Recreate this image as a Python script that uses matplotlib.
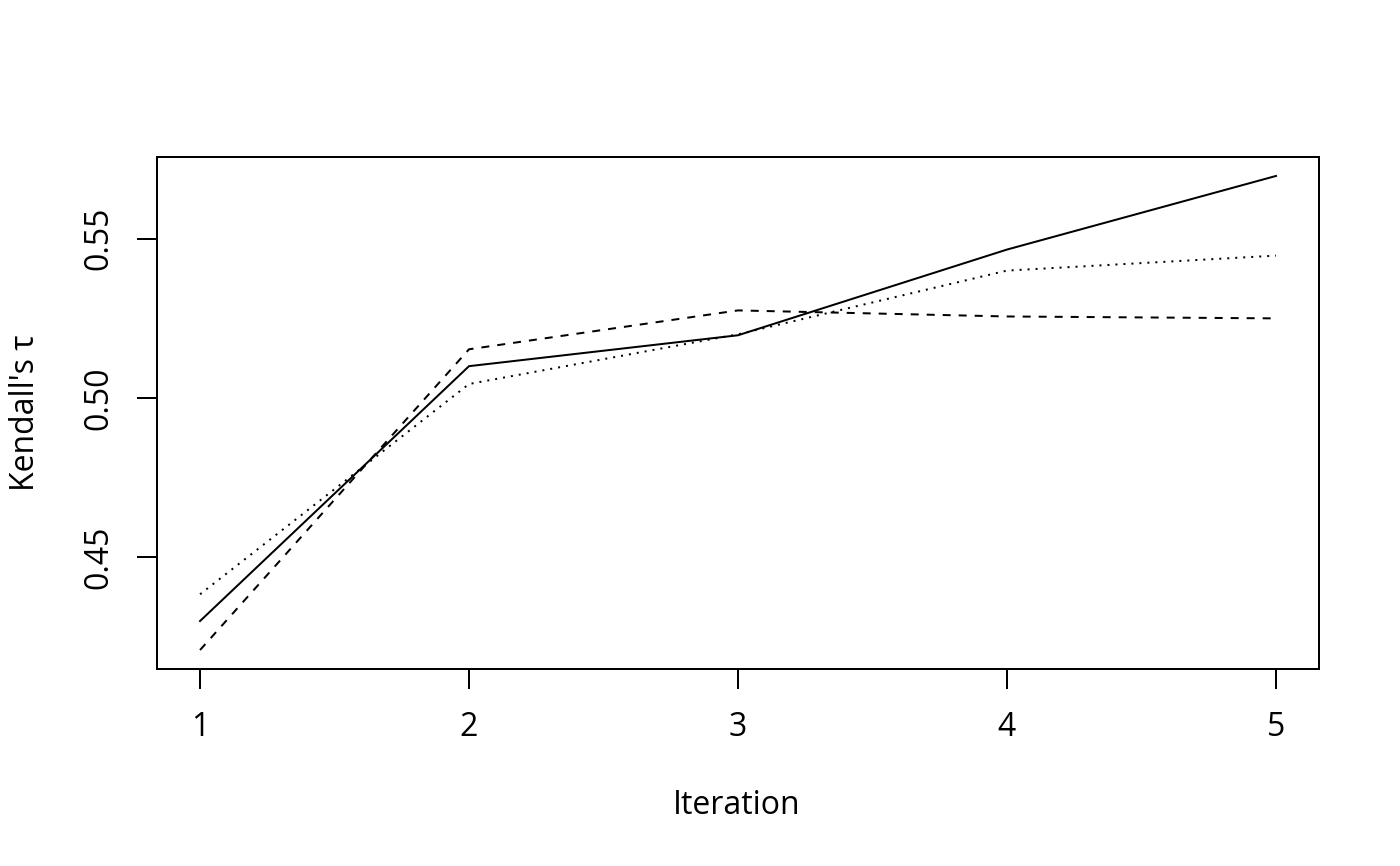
import matplotlib
matplotlib.use("Agg")
import matplotlib.pyplot as plt

iterations = [1, 2, 3, 4, 5]
solid = [0.4300, 0.5100, 0.5197, 0.5466, 0.5697]
dashed = [0.4209, 0.5153, 0.5275, 0.5256, 0.5250]
dotted = [0.4384, 0.5044, 0.5200, 0.5400, 0.5447]
yticks = [0.45, 0.50, 0.55]
ytick_labels = ["0.45", "0.50", "0.55"]

plt.rcParams['font.family'] = ['Open Sans', 'DejaVu Sans']
plt.rcParams['font.size'] = 16

dpi = 144
W, H = 1400, 866
fig = plt.figure(figsize=(W / dpi, H / dpi), dpi=dpi)
ax = fig.add_axes([157 / W, 1 - 669 / H, (1319 - 157) / W, (669 - 157) / H])

ax.plot(iterations, solid, color='black', lw=1, linestyle='-')
ax.plot(iterations, dashed, color='black', lw=1, linestyle=(0, (4, 4)))
ax.plot(iterations, dotted, color='black', lw=1, linestyle=(0, (1, 3)))

allv = solid + dashed + dotted
lo, hi = min(allv), max(allv)
r = hi - lo
ax.set_ylim(lo - 0.04 * r, hi + 0.04 * r)
ax.set_xlim(1 - 0.16, 5 + 0.16)

for s in ax.spines.values():
    s.set_linewidth(1)
ax.tick_params(direction='out', length=10, width=1)
ax.tick_params(axis='x', pad=11)
ax.tick_params(axis='y', pad=11, labelrotation=90)

ax.set_xticks(iterations)
ax.set_xticklabels([str(i) for i in iterations])
ax.set_yticks(yticks)
ax.set_yticklabels(ytick_labels)
for lab in ax.get_yticklabels():
    lab.set_rotation(90)
    lab.set_va('center')
    lab.set_ha('right')

fig.text(737 / W, 1 - 805 / H, "Iteration", ha='center', va='center')
fig.text(25 / W, 1 - 413 / H, "Kendall's τ", ha='center', va='center', rotation=90)

fig.savefig("out.png", dpi=dpi)
